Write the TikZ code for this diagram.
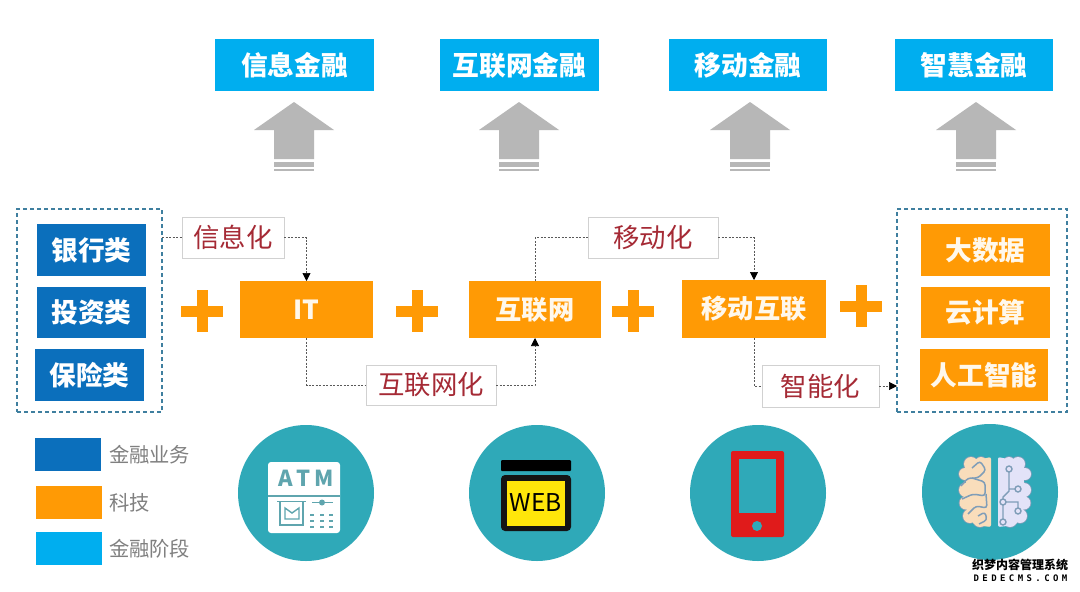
\documentclass[tikz,border=0pt]{standalone}
\usepackage{fontspec}
\setmainfont{Noto Sans CJK SC}
\newfontfamily\wmono[LetterSpace=38]{DejaVu Sans Mono}
\usetikzlibrary{arrows.meta}
\definecolor{cy}{HTML}{00AEEF}
\definecolor{bl}{HTML}{0B6FBC}
\definecolor{org}{HTML}{FF9A05}
\definecolor{tl}{HTML}{2FA9B8}
\definecolor{gy}{HTML}{B7B7B7}
\definecolor{rd}{HTML}{A52A35}
\definecolor{dsh}{HTML}{3F7F9F}
\definecolor{lgt}{HTML}{808080}
\definecolor{peach}{HTML}{F9DDBB}
\definecolor{lav}{HTML}{E3E3F8}
\definecolor{brl}{HTML}{7F9DB8}
\definecolor{atm}{HTML}{5FA5AE}
\definecolor{phn}{HTML}{E01B1B}
\definecolor{yel}{HTML}{FFE60A}
\definecolor{crm}{HTML}{FFF8EC}
\tikzset{
 x=1pt,y=-1pt,
 bx/.style={inner sep=0pt,outer sep=0pt,font=\bfseries\fontsize{26.7}{26.7}\selectfont,text=white},
 stage/.style={bx,fill=cy,minimum width=159pt,minimum height=52pt},
 fin/.style={bx,fill=bl,minimum width=109pt,minimum height=52pt},
 tech/.style={bx,fill=org,minimum width=129pt,minimum height=52pt,text=crm},
 mid/.style={bx,fill=org,minimum width=133pt,minimum height=58pt,text=crm,font=\bfseries\fontsize{26.2}{26.2}\selectfont},
 lbl/.style={inner sep=0pt,outer sep=0pt,fill=white,draw=black!18,line width=.7pt,text=rd,font=\fontsize{26.4}{26.4}\selectfont},
 group/.style={inner sep=0pt,outer sep=0pt,draw=dsh,line width=1.2pt,dash pattern=on 4pt off 3pt},
 conn/.style={draw=black!65,line width=.7pt,dash pattern=on 2pt off 1.5pt},
 conna/.style={conn,-{Triangle[length=8pt,width=8pt,black]}},
 leg/.style={inner sep=0pt,outer sep=0pt,minimum width=66pt,minimum height=33pt},
 legt/.style={inner sep=0pt,outer sep=0pt,anchor=west,text=lgt,font=\fontsize{20.3}{20.3}\selectfont},
 disc/.style={circle,fill=tl,inner sep=0pt,outer sep=0pt,minimum size=136pt},
 pluss/.style={fill=org},
 upa/.style={fill=gy},
}
\newcommand{\upArrow}[1]{%
 \begin{scope}[shift={(#1,0)}]
 \fill[upa] (0,102) -- (40,130) -- (20,130) -- (20,159) -- (-20,159) -- (-20,130) -- (-40,130) -- cycle;
 \fill[upa] (-20,161.5) rectangle (20,167);
 \fill[upa] (-20,169) rectangle (20,171);
 \end{scope}}
\newcommand{\plusSign}[2]{%
 \fill[pluss] (#1-21,#2-5.5) rectangle (#1+21,#2+5.5);
 \fill[pluss] (#1-5.5,#2-21) rectangle (#1+5.5,#2+21);}
\begin{document}
\begin{tikzpicture}
\useasboundingbox (0,0) rectangle (1080,592);
\fill[white] (0,0) rectangle (1080,592);
% stages
\node[stage] (s1) at (294.5,65) {信息金融};
\node[stage] (s2) at (519.5,65) {互联网金融};
\node[stage,minimum width=158pt] (s3) at (748,65) {移动金融};
\node[stage,minimum width=158pt] (s4) at (974,65) {智慧金融};
\upArrow{294}\upArrow{519}\upArrow{750}\upArrow{976}
% groups
\node[group,minimum width=145pt,minimum height=203pt] (gl) at (89.5,310.5) {};
\node[group,minimum width=170pt,minimum height=203pt] (gr) at (982,310.5) {};
\node[fin] (f1) at (91.5,250) {银行类};
\node[fin,minimum height=51pt] (f2) at (91.5,312.5) {投资类};
\node[fin] (f3) at (89.5,375) {保险类};
\node[tech] (t1) at (985.5,250) {大数据};
\node[tech,minimum height=51pt] (t2) at (985.5,312.5) {云计算};
\node[tech,minimum width=128pt] (t3) at (984,375) {人工智能};
% middle
\node[mid,minimum height=57pt] (it) at (306.5,309.5) {IT};
\node[mid,minimum width=132pt,minimum height=57pt] (web) at (535,309.5) {互联网};
\node[mid,minimum width=144pt] (mob) at (754,309) {移动互联};
\plusSign{202}{311}\plusSign{417}{311}\plusSign{633}{311}\plusSign{861}{306}
% labels
\node[lbl,minimum width=102pt,minimum height=41pt] (l1) at (233,237.5) {信息化};
\node[lbl,minimum width=130pt,minimum height=41pt] (l3) at (653,237.5) {移动化};
\node[lbl,minimum width=130pt,minimum height=40pt] (l2) at (431,385) {互联网化};
\node[lbl,minimum width=117pt,minimum height=42pt] (l4) at (820.5,386) {智能化};
% connectors
\draw[conn] (gl.east |- l1.west) -- (l1.west);
\draw[conna] (l1.east) -| (it.north);
\draw[conn] (it.south) |- (l2.west);
\draw[conna] (l2.east) -| (web.south);
\draw[conn] (web.north) |- (l3.west);
\draw[conna] (l3.east) -| (mob.north);
\draw[conn] (mob.south) |- (l4.west);
\draw[conna] (l4.east) -- (gr.west |- l4.east);
% legend
\node[leg,fill=bl] (k1) at (68,454.5) {};
\node[leg,fill=org] (k2) at (69,502.5) {};
\node[leg,fill=cy] (k3) at (69,548.5) {};
\node[legt] (kt1) at (109,455) {金融业务};
\node[legt] (kt2) at (109,503) {科技};
\node[legt] (kt3) at (109,549) {金融阶段};
% discs
\node[disc] (d1) at (306,493) {};
\node[disc] (d2) at (537,493) {};
\node[disc] (d3) at (758,493) {};
\node[disc] (d4) at (990,492) {};
% ATM icon
\fill[white,rounded corners=3pt] (268,462) rectangle (340,533);
\draw[atm,line width=1.5pt] (268,496) -- (340,496);
\node[inner sep=0pt,text=atm,font=\bfseries\fontsize{22}{22}\selectfont] (atmt) at (306,478.5) {A\,T\,M};
\draw[atm,line width=1.5pt] (277,501.5) -- (306,501.5);
\draw[atm,line width=1.5pt] (280,501.5) -- (280,525) -- (303,525) -- (303,501.5);
\draw[atm,line width=1.4pt] (285,508) -- (285,519) -- (299,519) -- (299,508) -- (292,513) -- cycle;
\draw[atm,line width=1.4pt] (312,502.5) -- (333,502.5);
\fill[atm] (322,502.5) circle (3pt);
\foreach \xx in {312,321.5,331} \foreach \yy in {515,521,527} \fill[atm] (\xx-2,\yy-1) rectangle (\xx+2,\yy+1);
% WEB icon
\fill[black,rounded corners=1pt] (501,460) rectangle (571,471);
\fill[black!92,rounded corners=4pt] (501,475) rectangle (571,531);
\fill[yel] (507,481) rectangle (565,526);
\node[inner sep=0pt,text=black,font=\fontsize{24.5}{24.5}\selectfont] (webt) at (536,503) {WEB};
% phone icon
\fill[phn,rounded corners=2pt] (731,451) rectangle (784,537);
\fill[tl] (739,459) rectangle (776,513);
\fill[tl] (757,526) circle (5pt);
% brain icon
\begin{scope}
\def\lobeL{(971,464) circle (7pt) (965,474) circle (6pt) (966,490) circle (7pt) (966,503) circle (6.5pt) (970,516) circle (7pt) (980,520) circle (7pt) (981,463) circle (6pt)}
\def\lobeR{(1018,464) circle (7pt) (1025,474) circle (6pt) (1024,490) circle (7pt) (1024,503) circle (6.5pt) (1020,516) circle (7pt) (1010,520) circle (7pt) (1009,463) circle (6pt)}
\draw[brl,line width=1.6pt] \lobeL; \draw[brl,line width=1.6pt] \lobeR;
\fill[peach] \lobeL; \fill[lav] \lobeR;
\fill[peach,rounded corners=2pt] (968,462) -- (991,457) -- (991,527) -- (974,525) -- (964,500) -- cycle;
\fill[lav,rounded corners=2pt] (998,457) -- (1022,462) -- (1026,500) -- (1016,525) -- (998,527) -- cycle;
\draw[brl,line width=1.5pt,rounded corners=3pt] (972,468) -- (980,461) -- (986,470) -- (978,478) -- (968,478) -- (961,486);
\draw[brl,line width=1.5pt,rounded corners=3pt] (972,478) -- (985,482) -- (985,496) -- (973,494) -- (962,499);
\draw[brl,line width=1.5pt,rounded corners=3pt] (986,494) -- (987,508) -- (976,506) -- (968,514);
\draw[brl,line width=1.5pt,rounded corners=3pt] (978,516) -- (985,512) -- (987,520) -- (979,524);
\draw[brl,line width=1.4pt] (1009,469) -- (1009,491) -- (1003,497) -- (1003,522) (1009,489) -- (1018,489) (1003,502) -- (1018,502) -- (1018,511);
\foreach \cx/\cy in {1009/469,1018/489,1003/502,1018/511,1003/522}{\filldraw[fill=lav,draw=brl,line width=1.4pt] (\cx,\cy) circle (3pt);}
\end{scope}
% watermark
\node[inner sep=0pt,text=black,font=\bfseries\fontsize{12}{12}\selectfont] (wm1) at (1020,564.5) {织梦内容管理系统};
\node[inner sep=0pt,text=black,font=\wmono\bfseries\fontsize{9}{9}\selectfont] (wm2) at (1020.5,578) {DEDECMS.COM};
\end{tikzpicture}
\end{document}
